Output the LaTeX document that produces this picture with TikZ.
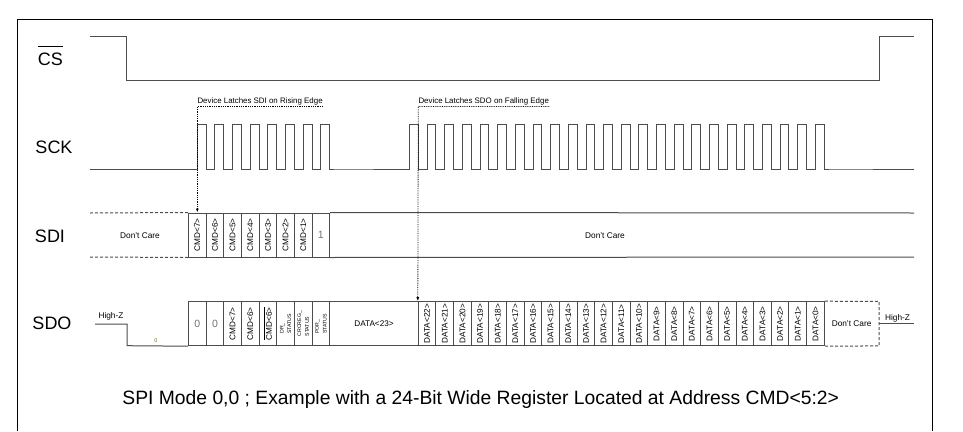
\documentclass[tikz,border=0pt]{standalone}
\usepackage{fontspec}
\setmainfont{Liberation Sans}
\usetikzlibrary{arrows.meta, positioning}

\begin{document}
\begin{tikzpicture}[x=1pt, y=-1pt,
sig/.style={draw=black!70, line width=1pt},
cell/.style={rectangle, draw=black!70, line width=1pt, minimum width=17.65pt, minimum height=44pt, inner sep=0pt, font=\fontsize{8.2}{9}\selectfont},
wide/.style={cell, minimum width=88.6pt},
stat/.style={cell, font=\fontsize{5.2}{5.6}\selectfont},
bit/.style={cell, font=\fontsize{10.5}{12}\selectfont, text=black!55},
sigLbl/.style={font=\fontsize{18}{20}\selectfont, anchor=base, inner sep=0pt},
note/.style={font=\fontsize{7.9}{9}\selectfont, anchor=south west, inner xsep=0pt, inner ysep=1.5pt},
small/.style={font=\fontsize{8.3}{10}\selectfont, inner sep=0pt},
latch/.style={densely dotted, line width=0.8pt, -{Latex[length=4pt,width=3pt]}},
dc/.style={dash pattern=on 3pt off 2pt, draw=black!70, line width=1pt},
]
\useasboundingbox (0,0) rectangle (963,431);

%Frame
\draw[line width=0.8pt] (17,431) -- (17,19) -- (932,19) -- (932,431);

%Signal names
\node[sigLbl] (csLbl) at (50.5,65) {$\overline{\mbox{CS\rule{0pt}{17.5pt}}}$};
\node[sigLbl] (sckLbl) at (54,153) {SCK};
\node[sigLbl] (sdiLbl) at (50,242.5) {SDI};
\node[sigLbl] (sdoLbl) at (52,329.5) {SDO};

%CS and SCK
\draw[sig] (90,36) -- (126,36) -- (126,80) -- (879,80) -- (879,36) -- (914,36);
\draw[sig] (90,169) -- (197.325,169)
  \foreach \i in {1,...,8} { -- ++(0,-45) -- ++(8.825,0) -- ++(0,45) -- ++(8.825,0) }
  -- (409.5,169)
  \foreach \i in {1,...,24} { -- ++(0,-45) -- ++(8.825,0) -- ++(0,45) -- ++(8.825,0) }
  -- (914,169);

%SDI cells
\foreach \i in {0,...,6} {
  \pgfmathtruncatemacro{\b}{7-\i}
  \node[cell] (sdi\i) at ({197.325+17.65*\i},235) {\rotatebox{90}{CMD<\b>}};
}
\node[bit] (sdi7) at ({197.325+17.65*7},235) {1};
\node[small, anchor=base] (sdiDcL) at (140,238.5) {Don't Care};
\node[small, anchor=base] (sdiDcR) at (605,238.5) {Don't Care};

%SDO cells
\node[bit] (sdo0) at (197.325,323.7) {0};
\node[bit] (sdo1) at (214.975,323.7) {0};
\node[cell] (sdo2) at (232.625,323.7) {\rotatebox{90}{CMD<7>}};
\node[cell] (sdo3) at (250.275,323.7) {\rotatebox{90}{CMD<6>}};
\node[cell] (sdo4) at (267.925,323.7) {\rotatebox{90}{$\overline{\mbox{CMD<6>}}$}};
\node[stat] (sdo5) at (285.575,323.7) {\rotatebox{90}{\shortstack[l]{DR\_\\STATUS}}};
\node[stat] (sdo6) at (303.225,323.7) {\rotatebox{90}{\shortstack[l]{CRCREG\_\\STATUS}}};
\node[stat] (sdo7) at (320.875,323.7) {\rotatebox{90}{\shortstack[l]{POR\_\\STATUS}}};
\node[wide] (d23) at (374,323.7) {DATA<23>};
\node[small, minimum width=54.75pt, minimum height=44pt] (sdoDc) at (851.6,323.7) {Don't Care};
\foreach \k in {0,...,22} {
  \pgfmathtruncatemacro{\b}{22-\k}
  \node[cell] (d\b) at ({427.125+17.65*\k},323.7) {\rotatebox{90}{DATA<\b>}};
}
\node[small, anchor=base] (hizL) at (111,318.5) {High-Z};
\node[small, anchor=base] (hizR) at (897.5,320) {High-Z};
\node[font=\fontsize{5.5}{6}\selectfont, text=olive!70!black] (sdoZero) at (156,341) {0};

%Latch notes
\node[note] (latchSdi) at (197.325,106.5) {Device Latches SDI on Rising Edge};
\node[note] (latchSdo) at (418.3,106.5) {Device Latches SDO on Falling Edge};

%Lines
\draw[dc] (90,213) -- (sdi0.north west);
\draw[dc] (90,257) -- (sdi0.south west);
\draw[sig] (sdi7.north east) -- (914,213);
\draw[sig] (sdi7.south east) -- (914,257);
\draw[sig] (95,324) -- (127,324) -- (127,345.7) -- (sdo0.south west);
\draw[dc] (d0.north east) -- (sdoDc.north east) -- (sdoDc.south east) -- (d0.south east);
\draw[sig] (sdoDc.east) -- (914,323.7);
\draw[latch] (latchSdi.south east) -- (latchSdi.south west) -- (sdi0.north);
\draw[latch] (latchSdo.south east) -- (latchSdo.south west) -- (d22.north west);

%Caption
\node[font=\fontsize{19.3}{23}\selectfont, anchor=base] (caption) at (480.7,404) {SPI Mode 0,0 ; Example with a 24-Bit Wide Register Located at Address CMD<5:2>};

\end{tikzpicture}
\end{document}
